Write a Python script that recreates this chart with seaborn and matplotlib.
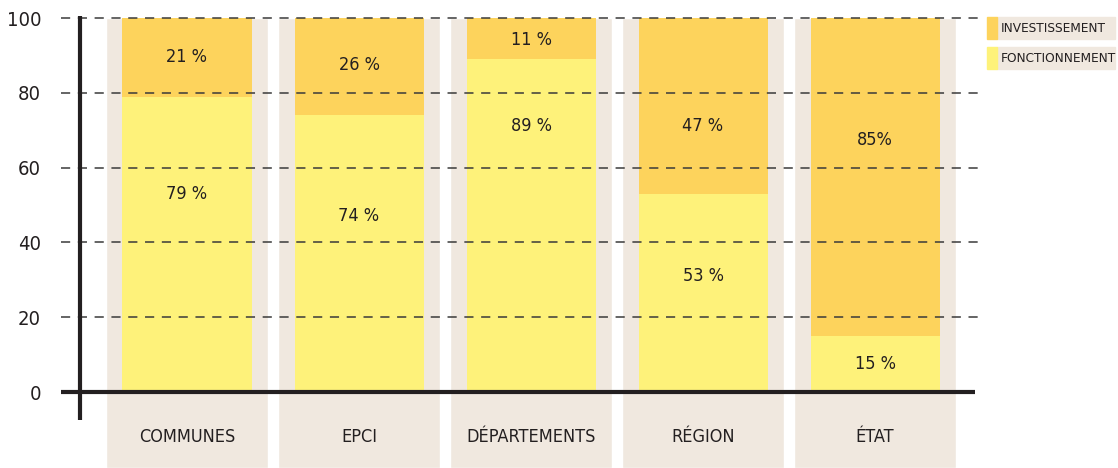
import matplotlib
matplotlib.use("Agg")
import matplotlib.pyplot as plt
import seaborn as sns
import pandas as pd
from matplotlib.patches import Rectangle

categories = ["COMMUNES", "EPCI", "DÉPARTEMENTS", "RÉGION", "ÉTAT"]
fonctionnement = [79, 74, 89, 53, 15]
investissement = [21, 26, 11, 47, 85]
fonct_labels = ["79 %", "74 %", "89 %", "53 %", "15 %"]
invest_labels = ["21 %", "26 %", "11 %", "47 %", "85%"]

sns.set_theme(style="white")
plt.rcParams["font.family"] = ["DejaVu Sans"]
plt.rcParams["font.stretch"] = "condensed"

YELLOW = "#FEF27A"
ORANGE = "#FDD35C"
BEIGE = "#F0E8DF"
DARK = "#231F20"

df = pd.DataFrame({"cat": categories, "fonct": fonctionnement, "invest": investissement})
df["total"] = df["fonct"] + df["invest"]

fig = plt.figure(figsize=(11.18, 4.68), dpi=100)
W, H = 1118, 468
ax = fig.add_axes([80 / W, (H - 392) / H, 900 / W, 374 / H])

xs = list(range(len(categories)))
# beige columns behind the bars, going down under the labels
ax.bar(xs, [120.3] * len(xs), bottom=-20.3, width=0.94, color=BEIGE,
       clip_on=False, zorder=0)

sns.barplot(data=df, x="cat", y="total", color=ORANGE, width=0.75,
            saturation=1, linewidth=0, ax=ax, zorder=1)
sns.barplot(data=df, x="cat", y="fonct", color=YELLOW, width=0.75,
            saturation=1, linewidth=0, ax=ax, zorder=2)

ax.set_xlim(-0.622, 4.61)
ax.set_ylim(0, 100)
ax.set_xlabel("")
ax.set_ylabel("")
for s in ax.spines.values():
    s.set_visible(False)

for v in [20, 40, 60, 80, 100]:
    ax.plot([-0.733, 4.61], [v, v], ls=(0, (6, 5)), color="#3a3a3a",
            lw=1.1, clip_on=False, zorder=4)
ax.plot([-0.62, -0.62], [-7.5, 100.6], color=DARK, lw=3, clip_on=False,
        zorder=5, solid_capstyle="butt")
ax.plot([-0.733, 4.58], [0, 0], color=DARK, lw=3, clip_on=False,
        zorder=5, solid_capstyle="butt")

ax.set_yticks([0, 20, 40, 60, 80, 100])
ax.set_yticklabels(["0", "20", "40", "60", "80", "100"])
ax.tick_params(axis="y", length=0, pad=28, labelsize=14.5, labelcolor=DARK)
ax.set_xticks(xs)
ax.set_xticklabels(categories)
ax.tick_params(axis="x", length=0, pad=26, labelsize=13, labelcolor=DARK)

fonct_y = [53, 47, 71, 31, 7.5]
invest_y = [89.5, 87.5, 94, 71, 67.5]
for i in xs:
    ax.text(i, fonct_y[i], fonct_labels[i], ha="center", va="center",
            fontsize=13, color=DARK, zorder=6)
    ax.text(i, invest_y[i], invest_labels[i], ha="center", va="center",
            fontsize=13, color=DARK, zorder=6)

# legend
for j, (name, col) in enumerate([("INVESTISSEMENT", ORANGE),
                                 ("FONCTIONNEMENT", YELLOW)]):
    top = 17 + j * 30
    fig.patches.append(Rectangle((997 / W, (H - top - 22) / H), 118 / W, 22 / H,
                                 transform=fig.transFigure, color=BEIGE, zorder=1))
    fig.patches.append(Rectangle((987 / W, (H - top - 22) / H), 10 / W, 22 / H,
                                 transform=fig.transFigure, color=col, zorder=2))
    fig.text(1001 / W, (H - top - 11) / H, name, ha="left", va="center",
             fontsize=9.7, color=DARK)

fig.savefig("out.png", dpi=100)
